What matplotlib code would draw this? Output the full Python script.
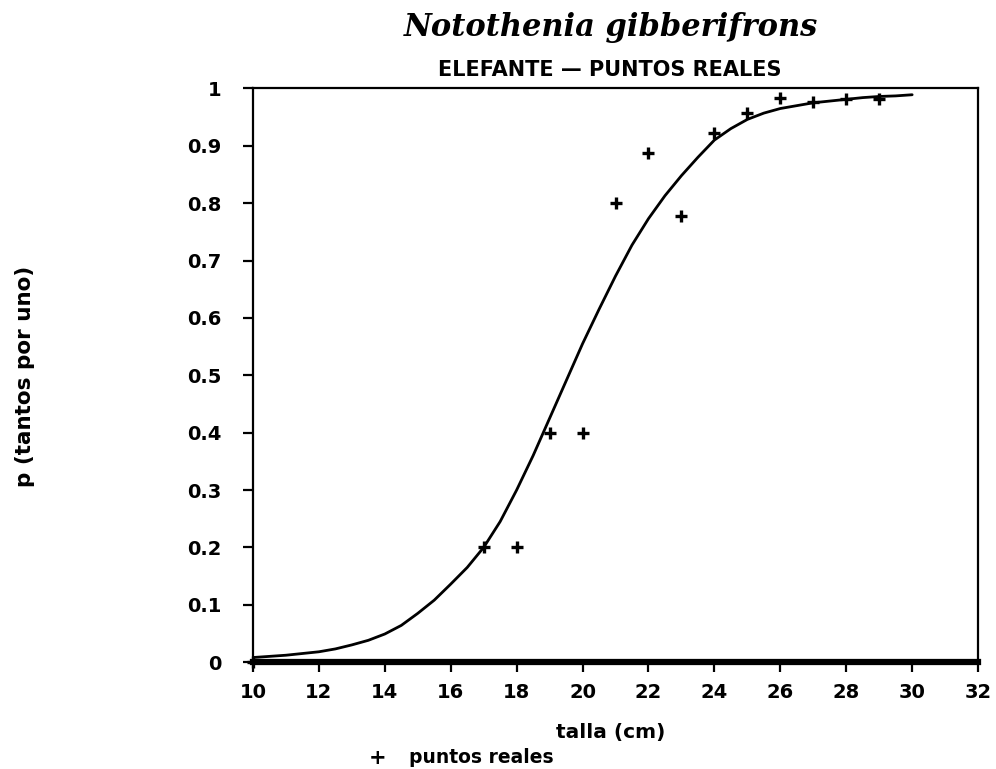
import matplotlib
matplotlib.use("Agg")
import matplotlib.pyplot as plt

# Observed points ("puntos reales")
talla_obs = [10, 17, 18, 19, 20, 21, 22, 23, 24, 25, 26, 27, 28, 29]
p_obs = [0.0, 0.20, 0.20, 0.40, 0.40, 0.80, 0.888, 0.778, 0.922, 0.958, 0.984, 0.976, 0.982, 0.982]

# Fitted curve
talla_fit = [10, 11, 12, 12.5, 13, 13.5, 14, 14.5, 15, 15.5, 16, 16.5, 17, 17.5, 18, 18.5,
             19, 19.5, 20, 20.5, 21, 21.5, 22, 22.5, 23, 23.5, 24, 24.5, 25, 25.5, 26,
             26.5, 27, 27.5, 28, 28.5, 29, 29.5, 30]
p_fit = [0.008, 0.012, 0.018, 0.023, 0.030, 0.038, 0.049, 0.064, 0.085, 0.108, 0.136,
         0.165, 0.200, 0.245, 0.300, 0.360, 0.425, 0.490, 0.555, 0.615, 0.673, 0.727,
         0.773, 0.813, 0.848, 0.880, 0.910, 0.930, 0.946, 0.957, 0.965, 0.970, 0.975,
         0.978, 0.981, 0.984, 0.986, 0.987, 0.989]

xticks = [10, 12, 14, 16, 18, 20, 22, 24, 26, 28, 30, 32]
yticks = [0, 0.1, 0.2, 0.3, 0.4, 0.5, 0.6, 0.7, 0.8, 0.9, 1]
ytick_labels = ["0", "0.1", "0.2", "0.3", "0.4", "0.5", "0.6", "0.7", "0.8", "0.9", "1"]

fig = plt.figure(figsize=(9.96, 7.69), dpi=100)
ax = fig.add_axes([0.254, 0.139, 0.728, 0.746])

ax.plot(talla_fit, p_fit, color="black", lw=2.0, solid_capstyle="round",
        solid_joinstyle="round")
ax.plot(talla_obs, p_obs, linestyle="none", marker="+", color="black",
        markersize=8.5, markeredgewidth=2.4, clip_on=False)

ax.set_xlim(10, 32)
ax.set_ylim(0, 1)
ax.set_xticks(xticks)
ax.set_xticklabels([str(v) for v in xticks])
ax.set_yticks(yticks)
ax.set_yticklabels(ytick_labels)

for side in ["left", "right", "top"]:
    ax.spines[side].set_linewidth(1.6)
ax.spines["bottom"].set_linewidth(4.5)

ax.tick_params(axis="both", direction="out", length=7, width=1.6,
               labelsize=14, colors="black")
ax.tick_params(axis="y", pad=16)
ax.tick_params(axis="x", pad=8)
for lbl in ax.get_xticklabels() + ax.get_yticklabels():
    lbl.set_fontweight("bold")

fig.text(0.025, 0.510, "p (tantos por uno)", rotation=90, ha="center", va="center",
         fontsize=15.5, fontweight="bold")
fig.text(0.613, 0.047, "talla (cm)", ha="center", va="center",
         fontsize=14.5, fontweight="bold")
fig.text(0.379, 0.0145, "+", ha="center", va="center", fontsize=15, fontweight="bold")
fig.text(0.411, 0.0145, "puntos reales", ha="left", va="center",
         fontsize=13.5, fontweight="bold")

fig.text(0.613, 0.964, "Notothenia gibberifrons", ha="center", va="center",
         fontsize=22, style="italic", fontweight="bold", family="DejaVu Serif")
fig.text(0.612, 0.909, "ELEFANTE \u2014 PUNTOS REALES", ha="center", va="center",
         fontsize=15, fontweight="bold")

fig.savefig("out.png", dpi=100)
